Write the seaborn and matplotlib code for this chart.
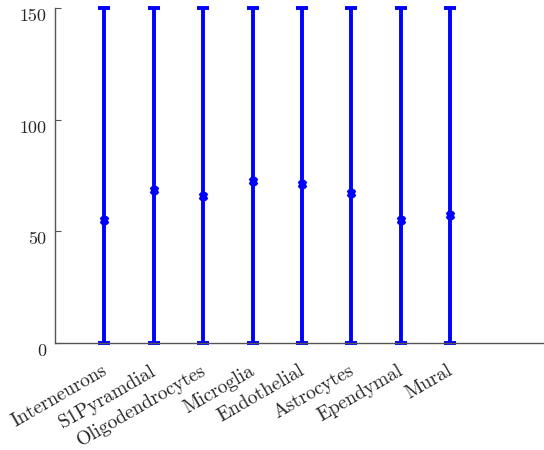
import matplotlib
matplotlib.use("Agg")
import matplotlib.pyplot as plt
import matplotlib.transforms as mtransforms
import seaborn as sns
import numpy as np
import pandas as pd

categories = ["Interneurons", "S1Pyramdial", "Oligodendrocytes", "Microglia",
              "Endothelial", "Astrocytes", "Ependymal", "Mural"]
means = [55, 68.5, 66, 72.5, 71, 67, 55, 57.5]
ci_low = [0, 0, 0, 0, 0, 0, 0, 0]
ci_high = [150, 150, 150, 150, 150, 150, 150, 150]
yticks = [0, 50, 100, 150]

sns.set_style("white")
plt.rcParams['font.family'] = ['cmr10', 'DejaVu Serif']
plt.rcParams['axes.formatter.use_mathtext'] = True

fig = plt.figure(figsize=(5.44, 4.5), dpi=100)
ax = fig.add_axes([0.101, 0.238, 0.899, 0.744])

df = pd.DataFrame({"cat": categories, "mean": means})
m = np.array(means)
lo = m - np.array(ci_low)
hi = np.array(ci_high) - m
xs = np.arange(len(categories))
ax.errorbar(xs, m, yerr=[lo, hi], fmt='none', ecolor='blue', elinewidth=2.8,
            capsize=4, capthick=2.8, zorder=2, clip_on=False)
sns.pointplot(data=df, x="cat", y="mean", linestyle='none', marker='X',
              color='blue', markersize=5, ax=ax, zorder=3)

ax.set_xlim(-1, 8.9)
ax.set_ylim(0, 150)
ax.set_yticks(yticks)
ax.set_yticklabels([str(t) for t in yticks], fontsize=13)
ax.set_xticks(xs)
ax.set_xticklabels(categories, rotation=30, ha='right', va='center',
                   rotation_mode='anchor', fontsize=14)
ax.set_xlabel("")
ax.set_ylabel("")
for s in ["top", "right"]:
    ax.spines[s].set_visible(False)
for s in ["left", "bottom"]:
    ax.spines[s].set_color('#555555')
    ax.spines[s].set_linewidth(1.0)
ax.tick_params(axis='y', direction='in', length=4, color='#555555', left=True, pad=6)
ax.tick_params(axis='x', length=0, pad=19)

off = mtransforms.ScaledTranslation(0, -7 / 100, fig.dpi_scale_trans)
for lbl in ax.get_yticklabels():
    lbl.set_transform(lbl.get_transform() + off)
offx = mtransforms.ScaledTranslation(1 / 100, 0, fig.dpi_scale_trans)
for lbl in ax.get_xticklabels():
    lbl.set_transform(lbl.get_transform() + offx)

fig.savefig("out.png", dpi=100)
